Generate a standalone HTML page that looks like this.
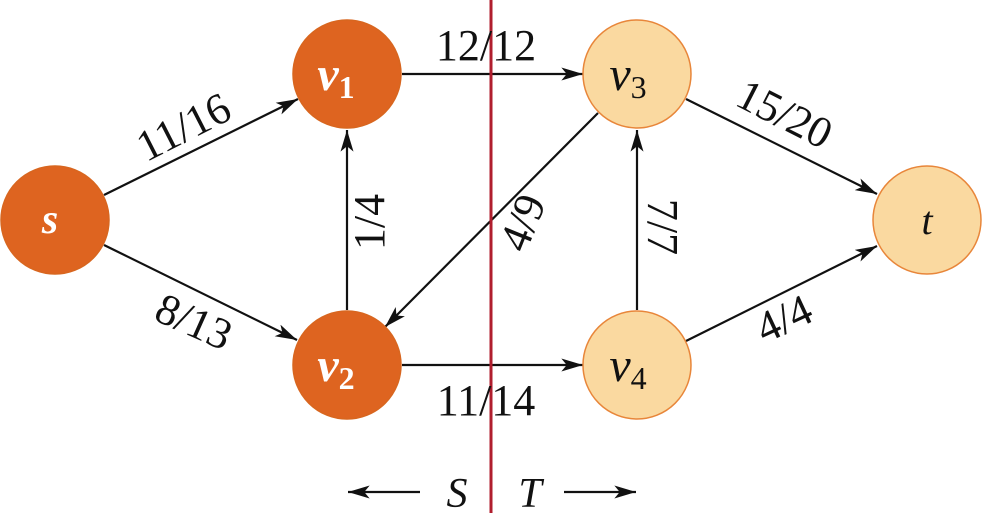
<!DOCTYPE html>
<html><head><style>html,body{margin:0;padding:0;background:#fff}svg text,svg tspan{font-family:"Liberation Serif","Times New Roman",Times,"DejaVu Serif",serif !important}</style></head><body>
<svg width="984" height="513" viewBox="0 0 984 513" xmlns="http://www.w3.org/2000/svg" font-family="'Liberation Serif', 'Times New Roman', Times, serif">
<defs>
<marker id="a" viewBox="0 0 20 12" refX="20" refY="6" markerWidth="22" markerHeight="13" markerUnits="userSpaceOnUse" orient="auto">
<path d="M0,0 L20,6 L0,12 L5,6 Z" fill="#111"/>
</marker>
</defs>
<g stroke="#111" stroke-width="2.2" fill="none" marker-end="url(#a)">
<line x1="104" y1="195" x2="298" y2="99"/>
<line x1="104" y1="245" x2="297" y2="340"/>
<line x1="347" y1="310" x2="347" y2="130"/>
<line x1="402" y1="74" x2="583" y2="74"/>
<line x1="598" y1="113" x2="385" y2="327"/>
<line x1="402" y1="365" x2="583" y2="365"/>
<line x1="637" y1="310" x2="637" y2="130"/>
<line x1="686" y1="99" x2="877" y2="194"/>
<line x1="686" y1="341" x2="877" y2="246"/>
<line x1="420" y1="492" x2="348" y2="492"/>
<line x1="564" y1="492" x2="636" y2="492"/>
</g>
<line x1="491" y1="0" x2="491" y2="513" stroke="#B01E2E" stroke-width="3"/>
<g stroke="#D8661F" stroke-width="1.5">
<circle cx="55" cy="220" r="54" fill="#DE6420"/>
<circle cx="347" cy="74" r="54" fill="#DE6420"/>
<circle cx="347" cy="365" r="54" fill="#DE6420"/>
<circle cx="637" cy="74" r="54" fill="#FAD9A0" stroke="#E8863A"/>
<circle cx="637" cy="365" r="54" fill="#FAD9A0" stroke="#E8863A"/>
<circle cx="927" cy="220" r="54" fill="#FAD9A0" stroke="#E8863A"/>
</g>
<g font-style="italic" font-weight="bold" font-size="48" fill="#fff" text-anchor="middle">
<text x="50" y="233" font-size="42">s</text>
<text x="336" y="90">v<tspan font-size="32" font-style="normal" dy="8">1</tspan></text>
<text x="336" y="381">v<tspan font-size="32" font-style="normal" dy="8">2</tspan></text>
</g>
<g font-style="italic" font-size="48" fill="#111" text-anchor="middle">
<text x="628" y="90">v<tspan font-size="32" font-style="normal" dy="8">3</tspan></text>
<text x="628" y="381">v<tspan font-size="32" font-style="normal" dy="8">4</tspan></text>
<text x="927" y="234" font-size="40">t</text>
<text x="457" y="507" font-size="42">S</text>
<text x="530" y="507" font-size="42">T</text>
</g>
<g font-size="44" fill="#111" text-anchor="middle">
<text x="486" y="60">12/12</text>
<text x="486" y="415">11/14</text>
<text transform="translate(190,140) rotate(-27)">11/16</text>
<text transform="translate(188,335) rotate(24)">8/13</text>
<text transform="translate(384,222) rotate(-90)">1/4</text>
<text transform="translate(536,228) rotate(-68)">4/9</text>
<text transform="translate(648,227) rotate(90)">7/7</text>
<text transform="translate(778,127) rotate(27)">15/20</text>
<text transform="translate(790,332) rotate(-25)">4/4</text>
</g>
</svg>
</body></html>
